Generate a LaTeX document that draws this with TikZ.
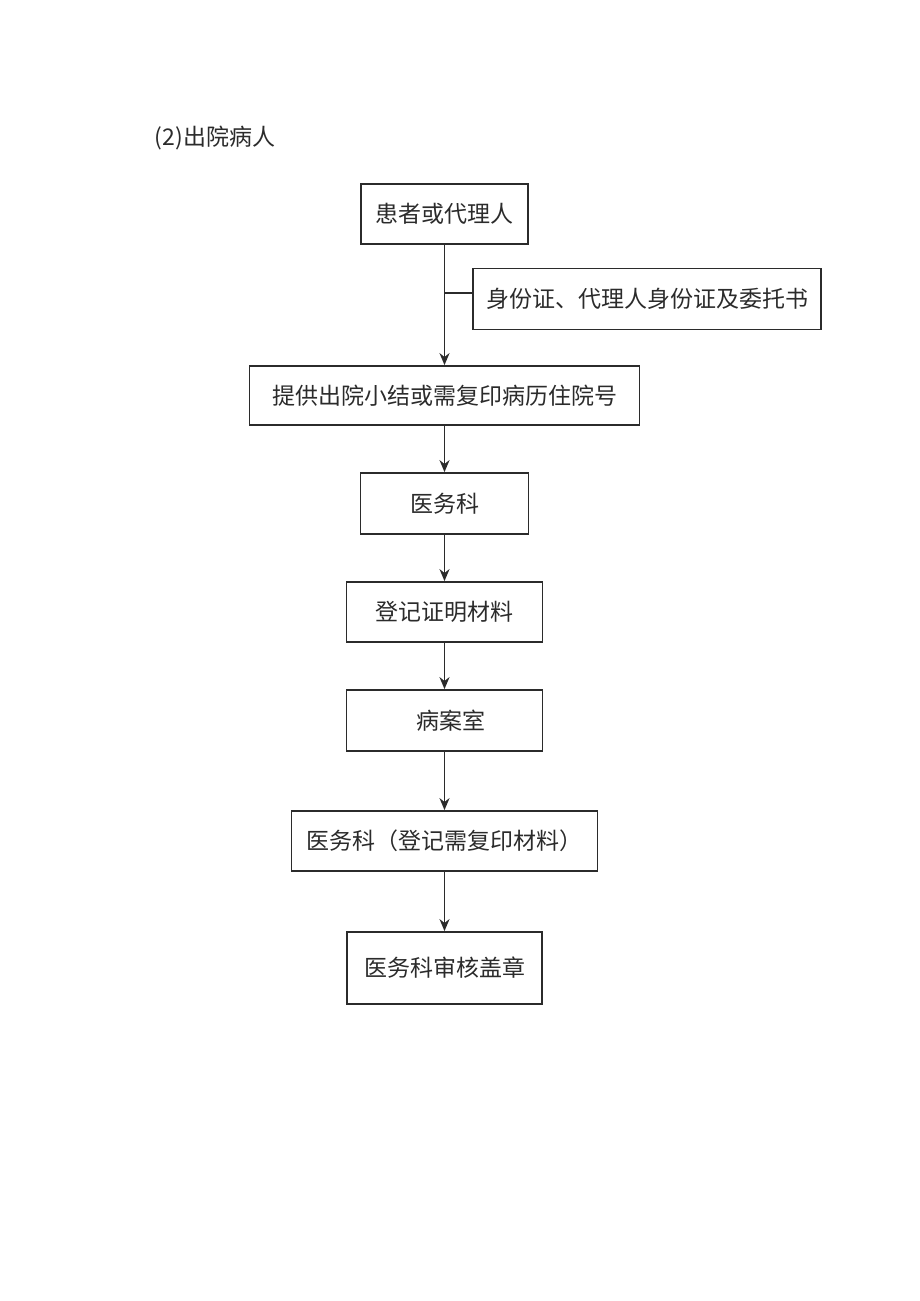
\documentclass[tikz,border=0pt]{standalone}
\usepackage{fontspec}
\setmainfont{Noto Sans CJK SC}
\newfontfamily\cjk{Noto Sans CJK SC}
\usetikzlibrary{arrows.meta}
\definecolor{ink}{HTML}{2B2B2B}
\tikzset{
  stepbox/.style={draw=ink, line width=1.8pt, rectangle, inner sep=0pt, text=ink,
    font=\cjk\fontsize{23}{26}\selectfont},
  flow/.style={draw=ink, line width=1.8pt, -{Stealth[length=12pt,width=10pt]}},
  plain/.style={draw=ink, line width=1.8pt}
}
\begin{document}
\begin{tikzpicture}[x=1pt,y=-1pt]
\useasboundingbox (0,0) rectangle (920,1301);
\node[anchor=west, text=ink, font=\cjk\fontsize{23}{26}\selectfont] (title) at (151,138) {(2)\hspace{1pt}出院病人};
\node[stepbox, minimum width=167pt, minimum height=60pt] (b1) at (444.5,214) {患者或代理人};
\node[stepbox, minimum width=348pt, minimum height=61pt] (side) at (647,299) {身份证、代理人身份证及委托书};
\node[stepbox, minimum width=390pt, minimum height=59pt] (b2) at (444.5,395.5) {提供出院小结或需复印病历住院号};
\node[stepbox, minimum width=168pt, minimum height=61pt] (b3) at (444.5,503.5) {医务科};
\node[stepbox, minimum width=196pt, minimum height=60pt] (b4) at (444.5,612) {登记证明材料};
\node[stepbox, minimum width=196pt, minimum height=61pt] (b5) at (444.5,720.5) {\hspace*{12pt}病案室};
\node[stepbox, minimum width=306pt, minimum height=60pt] (b6) at (444.5,841) {医务科（登记需复印材料）};
\node[stepbox, minimum width=195pt, minimum height=72pt] (b7) at (444.5,968) {医务科审核盖章};
\coordinate (br) at (444.5,293);
\draw[flow] (b1.south) -- (b2.north);
\draw[plain] (br) -- (br -| side.west);
\draw[flow] (b2.south) -- (b3.north);
\draw[flow] (b3.south) -- (b4.north);
\draw[flow] (b4.south) -- (b5.north);
\draw[flow] (b5.south) -- (b6.north);
\draw[flow] (b6.south) -- (b7.north);
\end{tikzpicture}
\end{document}
